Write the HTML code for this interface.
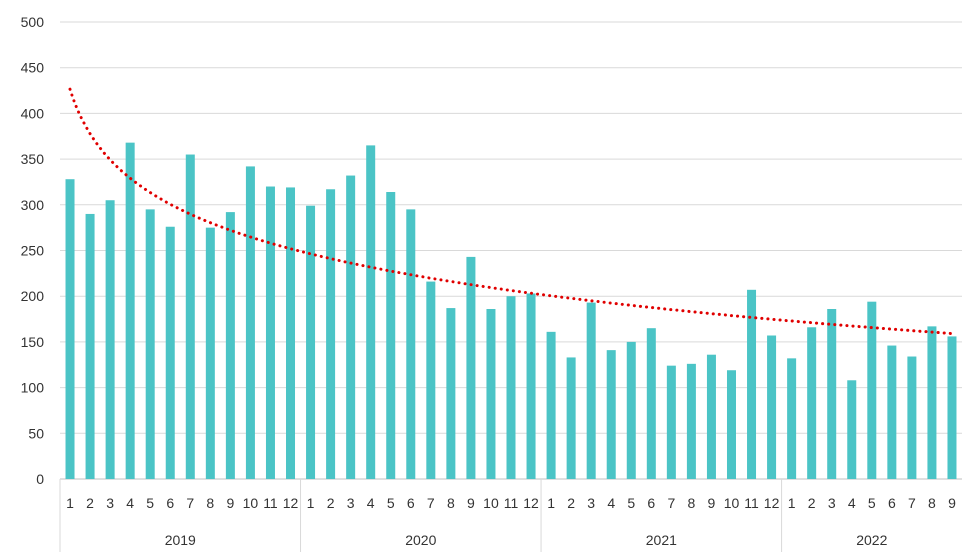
<!DOCTYPE html>
<html><head><meta charset="utf-8"><style>
html,body{margin:0;padding:0;background:#fff;}
svg{display:block;font-family:"Liberation Sans",sans-serif;}
</style></head><body>
<svg id="chart" width="963" height="554"></svg>
<script>
const years = ["2019","2020","2021","2022"];
const monthsPerYear = [12,12,12,9];
const values2019 = [328,290,305,368,295,276,355,275,292,342,320,319];
const values2020 = [299,317,332,365,314,295,216,187,243,186,200,203];
const values2021 = [161,133,193,141,150,165,124,126,136,119,207,157];
const values2022 = [132,166,186,108,194,146,134,167,156];
const yTicks = [0,50,100,150,200,250,300,350,400,450,500];

const values = values2019.concat(values2020, values2021, values2022);
const labels = [];
monthsPerYear.forEach(n=>{for(let i=1;i<=n;i++)labels.push(String(i));});

const NS="http://www.w3.org/2000/svg";
const svg=document.getElementById('chart');
const L=60,R=962,T=22,B=479;
const band=(R-L)/values.length;
const y=v=>B-(v/500)*(B-T);
const xc=i=>L+band*(i+0.5);
function mk(tag,attrs){const e=document.createElementNS(NS,tag);for(const k in attrs)e.setAttribute(k,attrs[k]);svg.appendChild(e);return e;}

yTicks.forEach(t=>{
  const g=mk('line',{x1:L,x2:R,y1:y(t),y2:y(t),stroke:t===0?'#bfbfbf':'#d9d9d9','stroke-width':1});
  
  
  const tx=mk('text',{x:44,y:y(t)+5,'text-anchor':'end','font-size':14,fill:'#333'});
  tx.textContent=t;
  
  
});

values.forEach((v,i)=>{
  const r=mk('rect',{x:xc(i)-4.5,y:y(v),width:9,height:B-y(v),fill:'#4bc4c6'});
  
  
  const tx=mk('text',{x:xc(i),y:508,'text-anchor':'middle','font-size':14,fill:'#333'});
  tx.textContent=labels[i];
  
  
});

// year separators and labels
let start=0;
const sep0=mk('line',{x1:L,x2:L,y1:B,y2:552,stroke:'#d9d9d9'});


years.forEach((yr,k)=>{
  const n=monthsPerYear[k];
  const end=start+n;
  const xe=L+band*end;
  if(k<years.length-1){
    const s=mk('line',{x1:xe,x2:xe,y1:B,y2:552,stroke:'#d9d9d9'});
    
    
  }
  const tx=mk('text',{x:L+band*(start+n/2),y:545,'text-anchor':'middle','font-size':14,fill:'#333'});
  tx.textContent=yr;
  
  
  start=end;
});

// logarithmic trendline fitted from data
const n=values.length;
let sx=0,sy=0,sxx=0,sxy=0;
values.forEach((v,i)=>{const lx=Math.log(i+1);sx+=lx;sy+=v;sxx+=lx*lx;sxy+=lx*v;});
const b=(n*sxy-sx*sy)/(n*sxx-sx*sx);
const a=(sy-b*sx)/n;
let d='';
for(let k=0;k<=400;k++){
  const xi=1+(n-1)*k/400;
  const px=xc(xi-1), py=y(a+b*Math.log(xi));
  d+=(k?'L':'M')+px.toFixed(1)+' '+py.toFixed(1);
}
const tr=mk('path',{d:d,fill:'none',stroke:'#e00000','stroke-width':3,'stroke-dasharray':'0.1 6','stroke-linecap':'round'});


</script>
</body></html>
